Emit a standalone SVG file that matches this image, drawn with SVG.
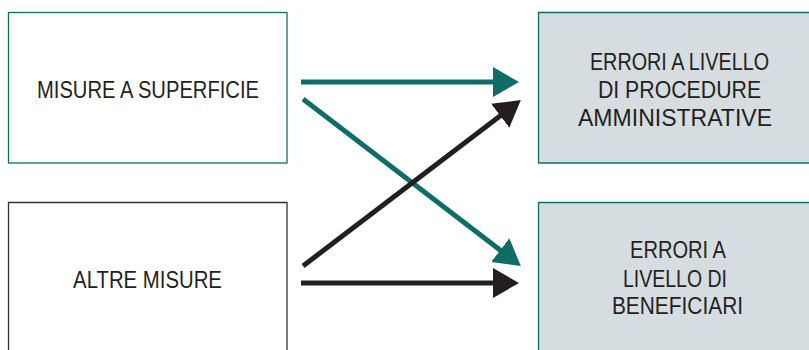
<svg xmlns="http://www.w3.org/2000/svg" width="809" height="350" viewBox="0 0 809 350">
<style>
.txt{font-family:"Liberation Sans",Arial,sans-serif;font-size:24.5px;fill:#231f20;text-anchor:middle}
.src{fill:#ffffff;stroke-width:1.3}
.fill{fill:#d6dde0;stroke:none}
.edge{fill:none;stroke:#0f6d66;stroke-width:1.3}
.teal{stroke:#0f6d66;stroke-width:5;fill:none}
.dark{stroke:#231f20;stroke-width:5;fill:none}
</style>
<defs>
<marker id="ahT" markerUnits="userSpaceOnUse" markerWidth="30" markerHeight="32" viewBox="0 -16 30 32" refX="1" refY="0" orient="auto">
<path d="M0,-15 L26,0 L0,15 Z" fill="#0f6d66"/>
</marker>
<marker id="ahD" markerUnits="userSpaceOnUse" markerWidth="30" markerHeight="32" viewBox="0 -16 30 32" refX="1" refY="0" orient="auto">
<path d="M0,-15 L26,0 L0,15 Z" fill="#231f20"/>
</marker>
</defs>
<g id="node-misure-superficie">
<rect class="src" x="8.5" y="12.5" width="278.5" height="150.5" stroke="#0f6d66"/>
<text class="txt" transform="translate(148 98) scale(0.8 1)" textLength="277.5" lengthAdjust="spacingAndGlyphs">MISURE A SUPERFICIE</text>
</g>
<g id="node-altre-misure">
<rect x="8.5" y="202.5" width="278.5" height="147.5" fill="#ffffff"/>
<path d="M8.5,350 V202.5 H287 V350" fill="none" stroke="#333333" stroke-width="1.3"/>
<text class="txt" transform="translate(147.5 288) scale(0.8 1)" textLength="186" lengthAdjust="spacingAndGlyphs">ALTRE MISURE</text>
</g>
<g id="node-errori-procedure">
<rect class="fill" x="538.5" y="12.5" width="270.5" height="150.5"/>
<path class="edge" d="M809,12.5 H538.5 V163 H809"/>
<text class="txt" transform="translate(679.5 70) scale(0.8 1)" textLength="224" lengthAdjust="spacingAndGlyphs">ERRORI A LIVELLO</text>
<text class="txt" transform="translate(679.5 98) scale(0.8 1)" textLength="204" lengthAdjust="spacingAndGlyphs">DI PROCEDURE</text>
<text class="txt" transform="translate(675 126) scale(0.8 1)" textLength="242.5" lengthAdjust="spacingAndGlyphs">AMMINISTRATIVE</text>
</g>
<g id="node-errori-beneficiari">
<rect class="fill" x="538.5" y="202.5" width="270.5" height="147.5"/>
<path class="edge" d="M809,202.5 H538.5 V350"/>
<text class="txt" transform="translate(678 258) scale(0.8 1)" textLength="120" lengthAdjust="spacingAndGlyphs">ERRORI A</text>
<text class="txt" transform="translate(675 287) scale(0.8 1)" textLength="130" lengthAdjust="spacingAndGlyphs">LIVELLO DI</text>
<text class="txt" transform="translate(677.5 314) scale(0.8 1)" textLength="164" lengthAdjust="spacingAndGlyphs">BENEFICIARI</text>
</g>
<g id="connectors">
<line class="teal" x1="301" y1="82" x2="494" y2="82" marker-end="url(#ahT)"/>
<line class="teal" x1="303" y1="99" x2="501" y2="250.8" marker-end="url(#ahT)"/>
<line class="dark" x1="303" y1="266" x2="501" y2="115.2" marker-end="url(#ahD)"/>
<line class="dark" x1="301" y1="283" x2="494" y2="283" marker-end="url(#ahD)"/>
</g>
</svg>
